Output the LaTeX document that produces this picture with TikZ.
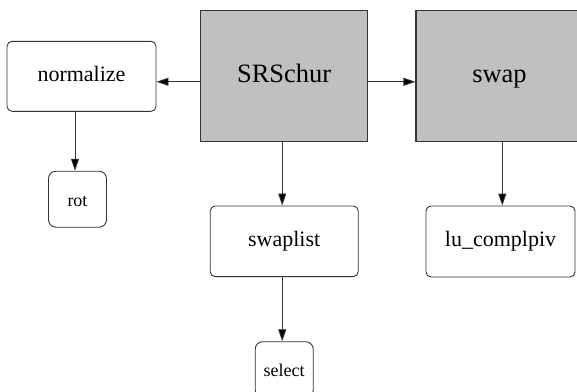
\documentclass[tikz,border=0pt]{standalone}
\usepackage{fontspec}
\setmainfont{Liberation Serif}
\usetikzlibrary{arrows.meta}
\definecolor{boxgray}{gray}{0.753}
\definecolor{edgegray}{gray}{0.2}
\tikzset{
  fnbox/.style={draw=edgegray, line width=0.9pt, rounded corners=5pt, fill=white,
    inner sep=0pt, anchor=center, text=black, text depth=0pt},
  mainbox/.style={draw=edgegray, line width=1.2pt, fill=boxgray, inner sep=0pt,
    minimum width=167pt, minimum height=131pt, text=black, text depth=0pt,
    text height=11.4pt, font=\fontsize{26.5}{30}\selectfont},
  bigtxt/.style={font=\fontsize{22}{26}\selectfont, text height=10.8pt},
  smalltxt/.style={font=\fontsize{18}{21}\selectfont, text height=14pt, rounded corners=7.5pt},
  arr/.style={draw=edgegray, line width=0.9pt, -{Triangle[length=12pt,width=8pt,fill=black]}}
}
\begin{document}
\begin{tikzpicture}[x=1pt,y=-1pt]
  \useasboundingbox[clip] (0,0) rectangle (577,391);
  % caller nodes
  \node[mainbox] (srschur) at (284.2,76.3) {SRSchur};
  \node[mainbox] (swap) at (499.5,76.3) {swap};
  % callee nodes
  \node[fnbox,bigtxt,minimum width=149pt,minimum height=70pt] (normalize) at (81.5,76.3) {normalize};
  \node[fnbox,smalltxt,minimum width=58pt,minimum height=56pt] (rot) at (77.5,199.2) {rot};
  \node[fnbox,bigtxt,minimum width=148pt,minimum height=70.7pt] (swaplist) at (284.2,241.3) {swaplist};
  \node[fnbox,bigtxt,minimum width=149pt,minimum height=71pt] (lu) at (500.5,241.5) {lu\_complpiv};
  \node[fnbox,smalltxt,minimum width=58pt,minimum height=56pt] (select) at (284.2,369.7) {select};
  % call edges
  \draw[arr] ([yshift=-5.5pt]srschur.west) -- ([yshift=-5.5pt]normalize.east);
  \draw[arr] ([yshift=-5.5pt]srschur.east) -- ([yshift=-5.5pt]swap.west);
  \draw[arr] ([xshift=-6.5pt]normalize.south) -- ([xshift=-2.5pt]rot.north);
  \draw[arr] ([xshift=-2pt]srschur.south) -- ([xshift=-2pt]swaplist.north);
  \draw[arr] ([xshift=-2pt]swaplist.south) -- ([xshift=-2pt]select.north);
  \draw[arr] ([xshift=2.8pt]swap.south) -- ([xshift=1.8pt]lu.north);
\end{tikzpicture}
\end{document}
